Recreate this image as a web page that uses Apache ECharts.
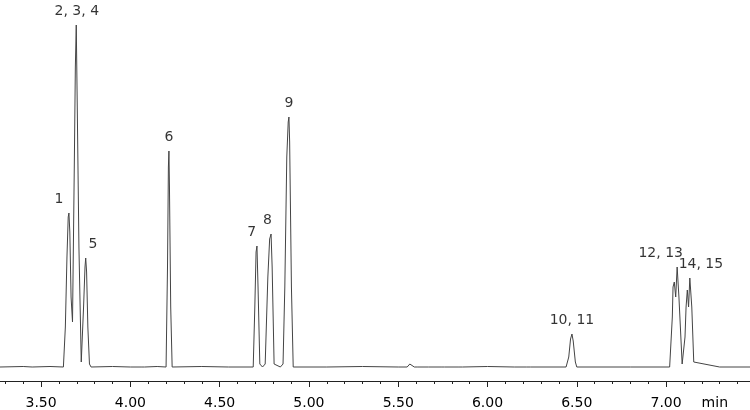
<!DOCTYPE html>
<html><head><meta charset="utf-8">
<script src="https://cdn.jsdelivr.net/npm/echarts@6/dist/echarts.min.js"></script>
<style>body{margin:0}#c{width:750px;height:410px}</style></head>
<body><div id="c"></div>
<script>
const traceTime = [3.27,3.40,3.45,3.55,3.625,3.636,3.645,3.652,3.656,3.661,3.668,3.676,3.686,3.692,3.697,3.702,3.712,3.725,3.738,3.746,3.750,3.755,3.762,3.771,3.780,3.90,4.00,4.06,4.07,4.08,4.15,4.200,4.208,4.213,4.216,4.219,4.226,4.234,4.40,4.55,4.688,4.697,4.704,4.709,4.715,4.725,4.740,4.755,4.770,4.780,4.788,4.794,4.805,4.840,4.855,4.865,4.876,4.884,4.888,4.892,4.902,4.912,5.10,5.30,5.50,5.55,5.565,5.575,5.59,5.60,5.61,5.65,5.66,5.67,5.74,5.75,5.76,5.84,5.85,5.86,6.00,6.15,6.22,6.23,6.24,6.44,6.455,6.465,6.473,6.480,6.492,6.50,6.80,7.02,7.030,7.035,7.039,7.046,7.054,7.062,7.072,7.090,7.100,7.106,7.112,7.119,7.126,7.133,7.144,7.155,7.30,7.47];
const traceValue = [0,0.5,0,0.5,0,40,110,150,154,135,70,45,200,300,342,270,120,5,60,100,109,95,40,3,0,0.5,0,0,1.5,0,0.5,0,100,200,216,180,60,0,0.5,0,0,60,115,121,80,3,0,3,90,128,133,100,3,0,3,80,210,245,250,225,80,0,0,0.5,0,0,3,1,0,2,0,0,1,0,0,1,0,0,1.5,0,0.5,0,0,1.5,0,0,10,28,33,26,5,0,0,0,0,50,80,85,70,100,70,3,3,30,60,77,60,89,60,5,0,0,0.5];
const peakLabels = ["1","2, 3, 4","5","6","7","8","9","10, 11","12, 13","14, 15"];
const labelTime = [3.60,3.700,3.79,4.216,4.680,4.768,4.888,6.473,6.970,7.195];
const labelHeight = [154,342,109,216,121,133,250,33,100,89];
const majorTicks = [3.5,4.0,4.5,5.0,5.5,6.0,6.5,7.0];
const minorTicks = [3.3,3.4,3.6,3.7,3.8,3.9,4.1,4.2,4.3,4.4,4.6,4.7,4.8,4.9,5.1,5.2,5.3,5.4,5.6,5.7,5.8,5.9,6.1,6.2,6.3,6.4,6.6,6.7,6.8,6.9,7.1,7.2,7.3,7.4];

const chart = echarts.init(document.getElementById('c'));
const font = 'DejaVu Sans';
chart.setOption({
  animation:false,
  grid:{left:0,right:0,top:0,bottom:29},
  xAxis:[
    {type:'value',min:3.27,max:7.47,splitLine:{show:false},
     axisLine:{show:true,onZero:false,lineStyle:{color:'#222'}},
     axisTick:{show:true,customValues:majorTicks,length:6,lineStyle:{color:'#222'}},
     axisLabel:{customValues:majorTicks,formatter:v=>v.toFixed(2),color:'#000',fontFamily:font,fontSize:14,margin:15}},
    {type:'value',min:3.27,max:7.47,position:'bottom',offset:0,splitLine:{show:false},
     axisLine:{show:false,onZero:false},
     axisTick:{show:true,customValues:minorTicks,length:3,lineStyle:{color:'#222'}},
     axisLabel:{show:false}}
  ],
  yAxis:{type:'value',min:-14,max:367,show:false},
  graphic:[{type:'text',right:22,bottom:0,style:{text:'min',font:'14px DejaVu Sans',fill:'#000'}}],
  series:[
    {type:'line',data:traceTime.map((t,i)=>[t,traceValue[i]]),symbol:'none',
     lineStyle:{color:'#444',width:1}},
    {type:'scatter',data:labelTime.map((t,i)=>[t,labelHeight[i]]),symbolSize:0,
     label:{show:true,position:'top',distance:7,formatter:p=>peakLabels[p.dataIndex],
       color:'#000',fontFamily:font,fontSize:14}}
  ]
});
</script></body></html>
